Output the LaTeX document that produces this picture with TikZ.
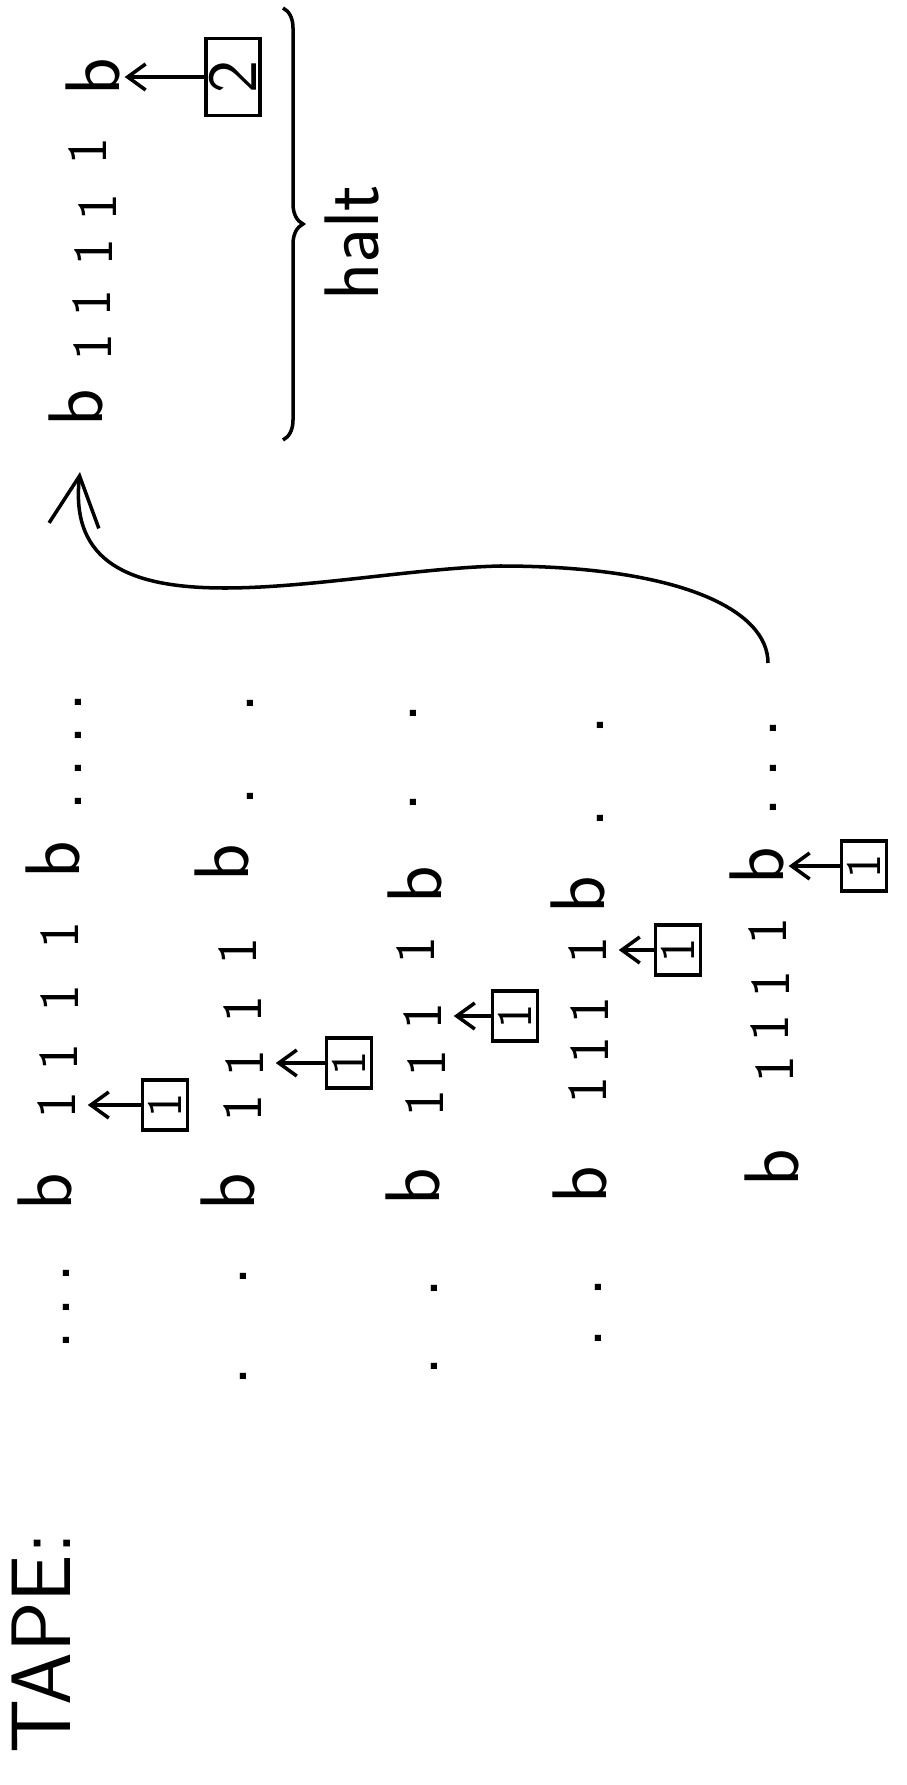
\documentclass[tikz,border=0pt]{standalone}
\usepackage{xcolor}
\usepackage{amssymb}
\usetikzlibrary{arrows.meta,decorations.pathreplacing}

\begin{document}
\begin{tikzpicture}[x=0.01cm,y=-0.01cm,line width=1pt,>={Straight Barb[length=1.8mm,width=2.6mm]},
  sym/.style={rotate=90,inner sep=1pt,font=\sffamily\fontsize{22}{26}\selectfont,text height=15pt,text depth=0pt},
  one/.style={sym,inner sep=3pt,font=\sffamily\fontsize{16}{19}\selectfont,text height=10.5pt},
  dots/.style={rotate=90,inner sep=1pt,font=\sffamily\fontsize{22}{26}\selectfont},
  head/.style={draw,rotate=90,inner sep=1pt,minimum width=0.5cm,minimum height=0.45cm,font=\sffamily\fontsize{14}{16}\selectfont}]
  \useasboundingbox (0,0) rectangle (906,1785);

  \node[dots,font=\sffamily\fontsize{24}{28}\selectfont] (tape) at (41,1643) {TAPE:};

  % row 1
  \node[dots] (r1d1) at (78,752) {.\hspace{1.3mm}.\hspace{1.3mm}.\hspace{1.3mm}.};
  \node[sym] (r1b1) at (53,860) {b};
  \node[one] (r1o1) at (60,935) {1};
  \node[one] (r1o2) at (60,998) {1};
  \node[one] (r1o3) at (59,1057) {1};
  \node[one] (r1o4) at (57,1105) {1};
  \node[sym] (r1b2) at (45,1192) {b};
  \node[dots] (r1d2) at (66,1307) {.\hspace{1.3mm}.\hspace{1.3mm}.};
  \node[head] (h1) at (165,1105) {1};
  \draw[->] (h1) -- (r1o4);

  % row 2
  \node[dots] (r2d1) at (250,750) {.\hspace{7.3mm}.};
  \node[sym] (r2b1) at (222,863) {b};
  \node[one] (r2o1) at (238,951) {1};
  \node[one] (r2o2) at (243,1009) {1};
  \node[one] (r2o3) at (245,1063) {1};
  \node[one] (r2o4) at (243,1108) {1};
  \node[sym] (r2b2) at (228,1192) {b};
  \node[dots] (r2d2) at (243,1326) {.\hspace{8mm}.};
  \node[head] (h2) at (349,1063) {1};
  \draw[->] (h2) -- (r2o3);

  % row 3
  \node[dots] (r3d1) at (413,758) {.\hspace{6.9mm}.};
  \node[sym] (r3b1) at (415,885) {b};
  \node[one] (r3o1) at (416,950) {1};
  \node[one] (r3o2) at (423,1016) {1};
  \node[one] (r3o3) at (427,1063) {1};
  \node[one] (r3o4) at (425,1103) {1};
  \node[sym] (r3b2) at (413,1187) {b};
  \node[dots] (r3d2) at (434,1327) {.\hspace{5.8mm}.};
  \node[head] (h3) at (515,1016) {1};
  \draw[->] (h3) -- (r3o2);

  % row 4
  \node[dots] (r4d1) at (600,772) {.\hspace{7.3mm}.};
  \node[sym] (r4b1) at (578,895) {b};
  \node[one] (r4o1) at (588,950) {1};
  \node[one] (r4o2) at (590,1010) {1};
  \node[one] (r4o3) at (590,1050) {1};
  \node[one] (r4o4) at (588,1090) {1};
  \node[sym] (r4b2) at (580,1185) {b};
  \node[dots] (r4d2) at (598,1313) {.\hspace{3.1mm}.};
  \node[head] (h4) at (678,950) {1};
  \draw[->] (h4) -- (r4o1);

  % row 5
  \node[dots] (r5d1) at (773,768) {.\hspace{1.9mm}.\hspace{1.9mm}.};
  \node[sym] (r5b1) at (757,866) {b};
  \node[one] (r5o1) at (768,931) {1};
  \node[one] (r5o2) at (771,984) {1};
  \node[one] (r5o3) at (770,1028) {1};
  \node[one] (r5o4) at (775,1069) {1};
  \node[sym] (r5b2) at (772,1168) {b};
  \node[head] (h5) at (864,866) {1};
  \draw[->] (h5) -- (r5b1);

  % halted tape
  \node[sym] (f1) at (93,77) {b};
  \node[one] (f2) at (88,151) {1};
  \node[one] (f3) at (98,207) {1};
  \node[one] (f4) at (94,252) {1};
  \node[one] (f5) at (92,303) {1};
  \node[one] (f6) at (93,347) {1};
  \node[sym] (f7) at (76,408) {b};
  \node[head,minimum width=0.77cm,minimum height=0.53cm,font=\sffamily\fontsize{20}{24}\selectfont] (h6) at (233,77) {2};
  \draw[->] (h6) -- (f1);

  \coordinate (bt) at (283,8);
  \coordinate (bb) at (283,440);
  \draw[decorate,decoration={brace,amplitude=2mm}] (bt) -- (bb);
  \node[dots] (halt) at (352,243) {halt};

  \coordinate (lift) at (768,663);
  \draw[-{Straight Barb[length=5mm,width=5mm]}] (lift) .. controls (768,610) and (680,566) .. (500,566)
    .. controls (330,570) and (60,650) .. ([xshift=0.04cm,yshift=-0.4cm]f7.west);
\end{tikzpicture}
\end{document}
